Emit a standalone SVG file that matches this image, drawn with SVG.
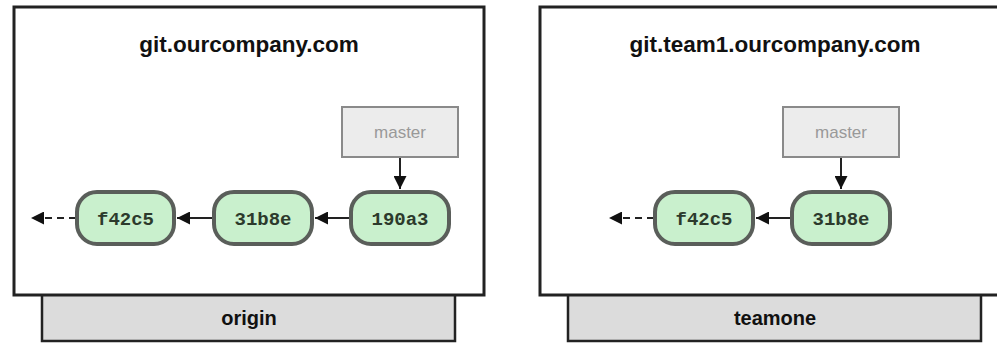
<svg xmlns="http://www.w3.org/2000/svg" width="997" height="343" viewBox="0 0 997 343">
<defs>
<style>
.server{fill:#fff;stroke:#222;stroke-width:3}
.bar{fill:#dcdcdc;stroke:#222;stroke-width:2.5}
.title{font-family:"Liberation Sans",Arial,sans-serif;font-weight:bold;font-size:22.5px;fill:#111;text-anchor:middle}
.barlbl{font-family:"Liberation Sans",Arial,sans-serif;font-weight:bold;font-size:20px;fill:#111;text-anchor:middle}
.branch rect{fill:#ececec;stroke:#8a8a8a;stroke-width:2}
.branch text{font-family:"Liberation Sans",Arial,sans-serif;font-size:17px;fill:#999;text-anchor:middle}
.commit rect{fill:#c9f0cd;stroke:#5a5e5a;stroke-width:4}
.commit text{font-family:"Liberation Mono","Courier New",monospace;font-weight:bold;font-size:19px;fill:#2c3a2c;text-anchor:middle}
.conn{stroke:#222;stroke-width:2;fill:none}
.dash{stroke-dasharray:7,5}
</style>
<marker id="ah" viewBox="0 0 10 10" refX="10" refY="5" markerWidth="15" markerHeight="13" markerUnits="userSpaceOnUse" orient="auto">
<path d="M0,0 L10,5 L0,10 Z" fill="#111"/>
</marker>
</defs>

<g id="origin-server">
<rect class="bar" x="42" y="292" width="413" height="49"/>
<rect class="server" x="14" y="7" width="470" height="288"/>
<text class="title" x="249" y="52">git.ourcompany.com</text>
<text class="barlbl" x="249" y="325">origin</text>
</g>

<g id="teamone-server">
<rect class="bar" x="568" y="292" width="413" height="49"/>
<rect class="server" x="540" y="7" width="470" height="288"/>
<text class="title" x="775" y="52">git.team1.ourcompany.com</text>
<text class="barlbl" x="775" y="325">teamone</text>
</g>

<g id="connectors">
<line class="conn" x1="400" y1="157" x2="400" y2="189" marker-end="url(#ah)"/>
<line class="conn" x1="351" y1="218" x2="315" y2="218" marker-end="url(#ah)"/>
<line class="conn" x1="213" y1="218" x2="177" y2="218" marker-end="url(#ah)"/>
<line class="conn dash" x1="76" y1="218" x2="31" y2="218" marker-end="url(#ah)"/>
<line class="conn" x1="841" y1="157" x2="841" y2="189" marker-end="url(#ah)"/>
<line class="conn" x1="792" y1="218" x2="756" y2="218" marker-end="url(#ah)"/>
<line class="conn dash" x1="654" y1="218" x2="609" y2="218" marker-end="url(#ah)"/>
</g>

<g id="origin-master" class="branch">
<rect x="342" y="107" width="116" height="50"/>
<text x="400" y="138">master</text>
</g>
<g id="origin-190a3" class="commit">
<rect x="351" y="192" width="98" height="52" rx="20"/>
<text x="400" y="225">190a3</text>
</g>
<g id="origin-31b8e" class="commit">
<rect x="214" y="192" width="98" height="52" rx="20"/>
<text x="263" y="225">31b8e</text>
</g>
<g id="origin-f42c5" class="commit">
<rect x="77" y="192" width="97" height="52" rx="20"/>
<text x="125.5" y="225">f42c5</text>
</g>

<g id="teamone-master" class="branch">
<rect x="783" y="107" width="116" height="50"/>
<text x="841" y="138">master</text>
</g>
<g id="teamone-31b8e" class="commit">
<rect x="792" y="192" width="98" height="52" rx="20"/>
<text x="841" y="225">31b8e</text>
</g>
<g id="teamone-f42c5" class="commit">
<rect x="655" y="192" width="98" height="52" rx="20"/>
<text x="704" y="225">f42c5</text>
</g>
</svg>
